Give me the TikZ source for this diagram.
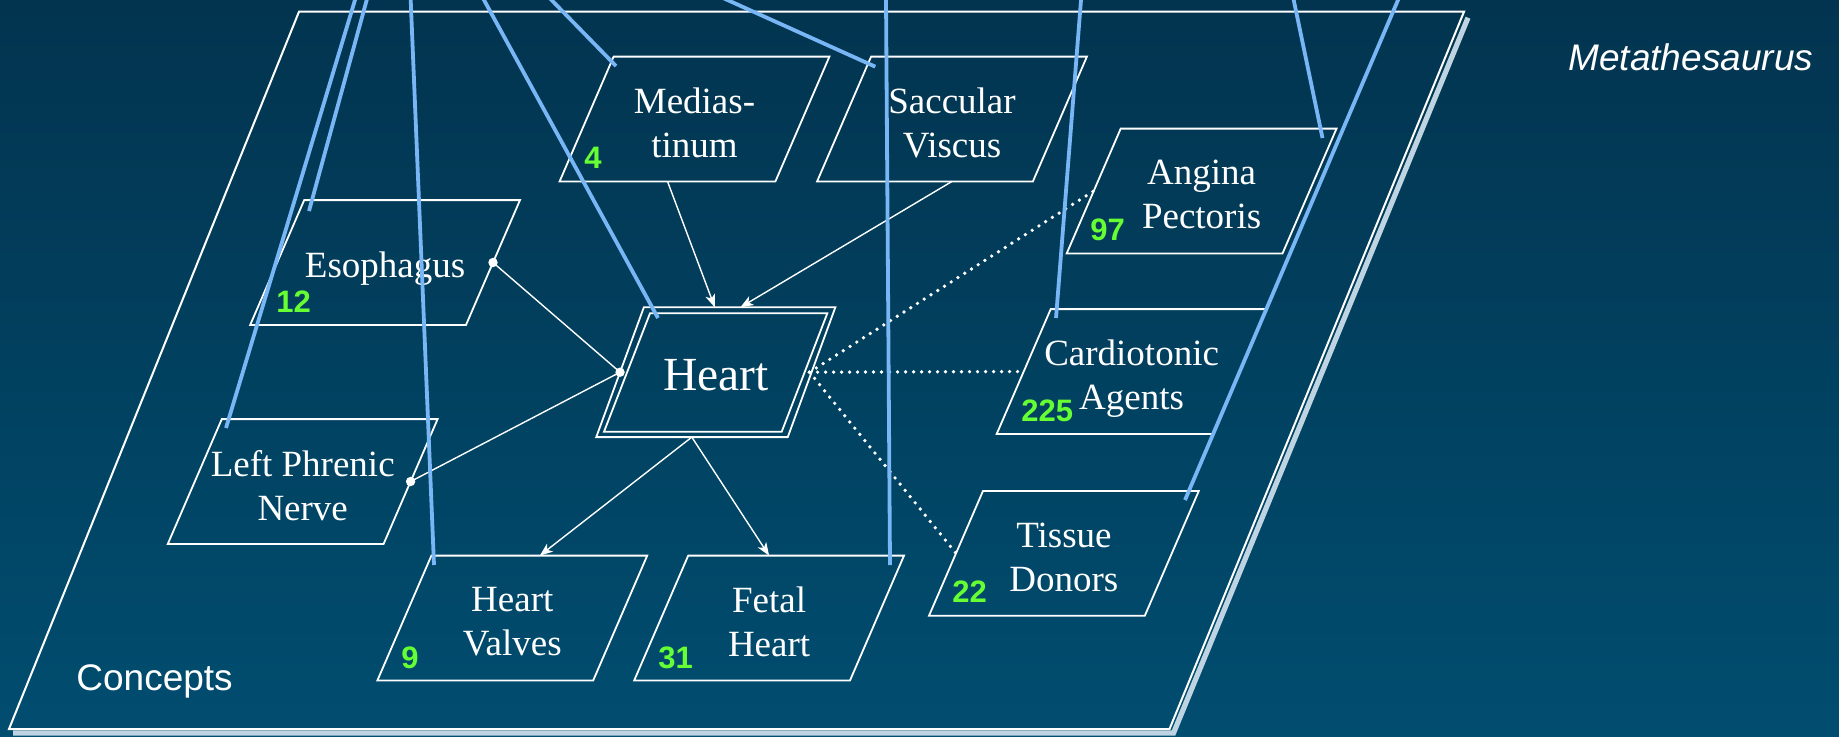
\documentclass[tikz,border=0pt]{standalone}
\usepackage{fontspec}
\setmainfont{Liberation Serif}
\setsansfont{Liberation Sans}
\usetikzlibrary{calc,arrows.meta}
\definecolor{bgtop}{RGB}{2,52,79}
\definecolor{bgbot}{RGB}{1,77,112}
\definecolor{linkblue}{RGB}{120,182,245}
\definecolor{numgreen}{RGB}{102,255,51}
\definecolor{shadowc}{RGB}{190,212,226}
\newcommand\pgram[2][27]{\draw[boxline] ($(#2.north west)+(#1,0)$) -- ($(#2.north east)+(#1,0)$) -- ($(#2.south east)+(-#1,0)$) -- ($(#2.south west)+(-#1,0)$) -- cycle;}
\begin{document}
\begin{tikzpicture}[x=0.5pt,y=-0.5pt,
  concept/.style={rectangle,inner sep=0pt,minimum width=107.5pt,minimum height=62pt},
  ctext/.style={inner sep=0pt,align=center,text=white,font=\fontsize{18.5}{22}\selectfont,text depth=0pt},
  boxline/.style={draw=white,line width=0.9pt,line join=miter},
  num/.style={inner sep=0pt,anchor=base west,text=numgreen,font=\sffamily\bfseries\fontsize{15.5}{15.5}\selectfont},
  umls/.style={draw=linkblue,line width=1.9pt,shorten <=-6pt},
  rel/.style={draw=white,line width=0.7pt},
  arr/.style={rel,-{Stealth[length=6.5pt,width=5pt,inset=1.8pt]}},
  assoc/.style={draw=white,line width=1.85pt,line cap=round,dash pattern=on 0pt off 4pt},
  planetext/.style={text=white,inner sep=0pt,anchor=base west,font=\sffamily\fontsize{18.5}{22}\selectfont}]
\useasboundingbox (0,0) rectangle (1839,736);
\fill[top color=bgtop,bottom color=bgbot] (0,0) rectangle (1839,736);
% plane
\coordinate (pTL) at (299,11.7);
\coordinate (pTR) at (1464,11.7);
\coordinate (pBR) at (1169.5,729);
\coordinate (pBL) at (9,729);
\draw[shadowc,line width=2.6pt,line join=miter] ($(pTR)+(4,6)$) -- ($(pBR)+(4,4)$) -- ($(pBL)+(4,4)$);
\draw[white,line width=1pt,line join=miter] (pTL) -- (pTR) -- (pBR) -- (pBL) -- cycle;
\node[planetext] (concepts) at (76,690) {Concepts};
\node[planetext,font=\sffamily\itshape\fontsize{18.5}{22}\selectfont] (meta) at (1568,70.5) {Metathesaurus};
% concepts
\node[concept] (med) at (694.5,119) {};
\node[concept] (sac) at (952,119) {};
\node[concept] (eso) at (385.1,262.5) {};
\node[concept] (lpn) at (302.7,481.5) {};
\node[concept] (hv) at (512.3,618) {};
\node[concept] (fh) at (769.1,618) {};
\node[concept] (ap) at (1201.6,191) {};
\node[concept] (ca) at (1131.6,371.5) {};
\node[concept] (td) at (1063.9,553.3) {};
\node[concept,minimum width=95.35pt,minimum height=64.5pt] (heart) at (715.8,372.2) {};
\node[ctext] (medt) at ($(med.center)+(0,3.5)$) {Medias-\\tinum};
\node[ctext] (sact) at ($(sac.center)+(0,3.5)$) {Saccular\\Viscus};
\node[ctext] (esot) at ($(eso.center)+(0,2.5)$) {Esophagus};
\node[ctext] (lpnt) at ($(lpn.center)+(0,3.5)$) {Left Phrenic\\Nerve};
\node[ctext] (hvt) at ($(hv.center)+(0,3.5)$) {Heart\\Valves};
\node[ctext] (fht) at ($(fh.center)+(0,3.5)$) {Fetal\\Heart};
\node[ctext] (apt) at ($(ap.center)+(0,3.5)$) {Angina\\Pectoris};
\node[ctext] (cat) at ($(ca.center)+(0,3.5)$) {Cardiotonic\\Agents};
\node[ctext] (tdt) at ($(td.center)+(0,3.5)$) {Tissue\\Donors};
\node[ctext,font=\fontsize{23.75}{28}\selectfont] (heartt) at ($(heart.center)+(0,2.5)$) {Heart};
\foreach \n in {med,sac,eso,lpn,hv,fh,ap,ca,td}{\pgram{\n}}
\pgram[23.8]{heart}
\draw[boxline] ($(heart.center)+(-65.8,-58.9)$) -- ($(heart.center)+(111.5,-58.9)$) -- ($(heart.center)+(65.9,59.5)$) -- ($(heart.center)+(-111.8,59.5)$) -- cycle;
% numbers
\node[num] (n4) at (584,168.5) {4};
\node[num] (n12) at (276,312.5) {12};
\node[num] (n97) at (1090,240.5) {97};
\node[num] (n225) at (1021,421.5) {225};
\node[num] (n22) at (952,602.5) {22};
\node[num] (n9) at (401,668.5) {9};
\node[num] (n31) at (658,668.5) {31};
% relations
\draw[arr] ($(med.south)+(-27,0)$) -- ($(heart.north)+(-1,0)$);
\draw[arr] (sac.south) -- ($(heart.north)+(24.6,0)$);
\draw[rel] (eso.east) -- (heart.west);
\draw[rel] (lpn.east) -- (heart.west);
\fill[white] (eso.east) circle[radius=4.7];
\fill[white] (lpn.east) circle[radius=4.7];
\fill[white] (heart.west) circle[radius=4.7];
\draw[arr] ($(heart.south)+(-24,0)$) -- ($(hv.north)+(27.5,0)$);
\draw[arr] ($(heart.south)+(-24,0)$) -- (fh.north);
\draw[assoc] ($(heart.east)+(-2,0)$) -- (ap.west);
\draw[assoc] ($(heart.east)+(-2,0)$) -- (ca.west);
\draw[assoc] ($(heart.east)+(-2,0)$) -- (td.west);
% Metathesaurus links
\coordinate (tl) at (355,0);
\coordinate (te) at (366.7,0);
\coordinate (tv) at (410.7,0);
\coordinate (th) at (484,0);
\coordinate (tm) at (551.5,0);
\coordinate (ts) at (727.5,0);
\coordinate (tf) at (886,0);
\coordinate (tc) at (1081,0);
\coordinate (ta) at (1293.7,0);
\coordinate (tt) at (1398,0);
\draw[umls] (te) -- ($(eso.center)+(-76.1,-51.5)$);
\draw[umls] (tl) -- ($(lpn.center)+(-76.7,-53.5)$);
\draw[umls] (tv) -- ($(hv.center)+(-78.3,-53)$);
\draw[umls] (th) -- ($(heart.center)+(-57.8,-54.2)$);
\draw[umls] (tm) -- ($(med.center)+(-78.5,-53)$);
\draw[umls] (ts) -- ($(sac.center)+(-76.7,-52.3)$);
\draw[umls] (tf) -- ($(fh.center)+(120.9,-53)$);
\draw[umls] (tc) -- ($(ca.center)+(-75.6,-53.5)$);
\draw[umls] (ta) -- ($(ap.center)+(120.9,-53)$);
\draw[umls] (tt) -- ($(td.center)+(121.1,-53.3)$);
\end{tikzpicture}
\end{document}
